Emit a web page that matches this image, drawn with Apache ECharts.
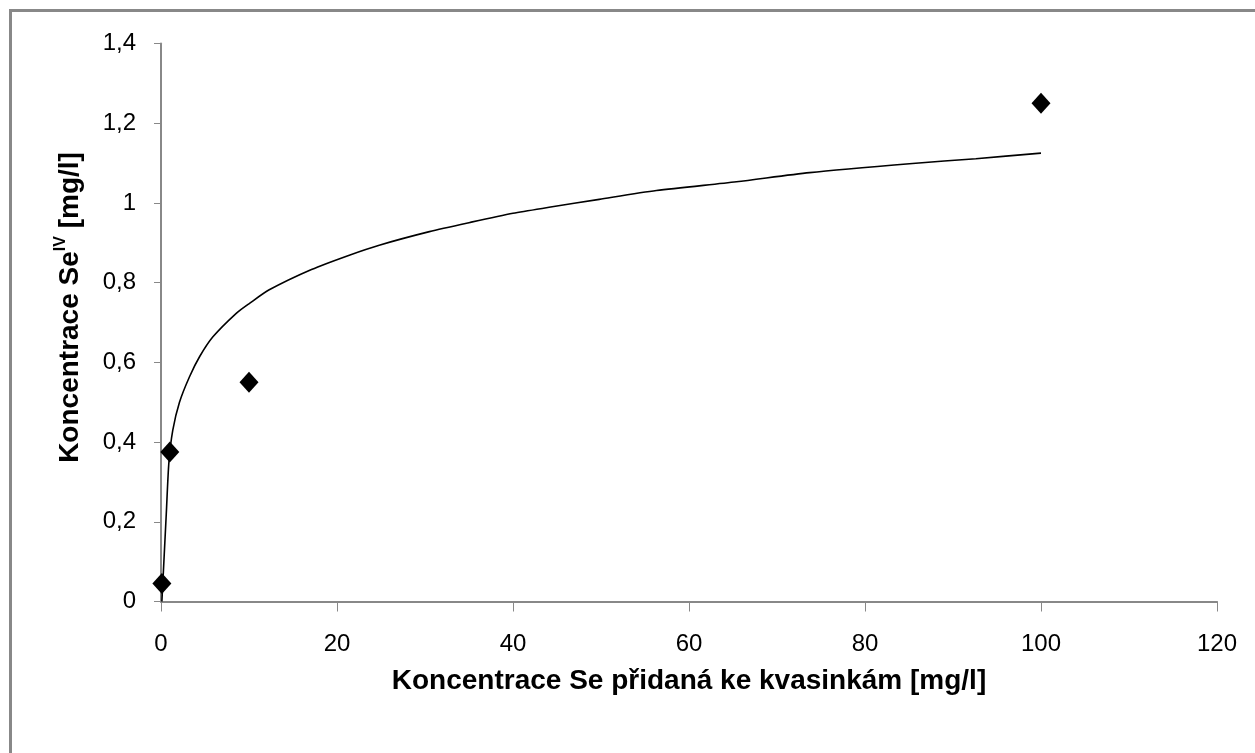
<!DOCTYPE html>
<html>
<head>
<meta charset="utf-8">
<script src="https://cdn.jsdelivr.net/npm/echarts@6/dist/echarts.min.js"></script>
<style>
  html, body { margin: 0; padding: 0; background: #fff; }
  #chart { width: 1255px; height: 753px; }
</style>
</head>
<body>
<div id="chart"></div>
<script>
// Se added to the yeast culture [mg/l] and the Se(IV) found [mg/l]
const addedSe = [0.1, 1, 10, 100];
const measuredSe = [0.045, 0.375, 0.55, 1.25];

// logarithmic trend line, sampled along its course
const trendX = [0.1, 0.6, 0.9, 1.34, 2.1, 3.24, 4.38, 5.9, 8.55, 10.06, 12.3, 17.1, 21.4, 24.8,
                30.5, 35.1, 40, 44.1, 49.8, 56.3, 65.4, 73.7, 85.4, 92.6, 100];
const trendY = [0.0, 0.22, 0.35, 0.43, 0.5, 0.564, 0.614, 0.664, 0.723, 0.748, 0.782, 0.833, 0.869, 0.894,
                0.928, 0.951, 0.974, 0.989, 1.009, 1.031, 1.053, 1.076, 1.099, 1.111, 1.125];

// axis ranges and tick steps
const xMin = 0, xMax = 120, xStep = 20;
const yMin = 0, yMax = 1.4, yStep = 0.2;

const xTitle = 'Koncentrace Se přidaná ke kvasinkám [mg/l]';
const yTitleParts = ['Koncentrace Se', 'IV', ' [mg/l]'];

const FONT = '"Liberation Sans", Arial, sans-serif';
const AXIS_GRAY = '#888888';

const chart = echarts.init(document.getElementById('chart'), null, { renderer: 'canvas' });

chart.setOption({
  animation: false,
  backgroundColor: '#ffffff',
  graphic: [{
    type: 'rect',
    shape: { x: 10.5, y: 10.5, width: 1400, height: 900 },
    style: { fill: null, stroke: AXIS_GRAY, lineWidth: 3 },
    silent: true
  }],
  grid: { left: 161, right: 38, top: 43.5, bottom: 151.5, containLabel: false, outerBoundsMode: 'none' },
  xAxis: {
    type: 'value',
    min: xMin, max: xMax, interval: xStep,
    splitLine: { show: false },
    axisLine: { show: true, onZero: false, lineStyle: { color: AXIS_GRAY, width: 2 } },
    axisTick: { show: true, inside: false, length: 10, lineStyle: { color: AXIS_GRAY, width: 1 } },
    axisLabel: { margin: 31, color: '#000', fontFamily: FONT, fontSize: 24 },
    name: xTitle,
    nameLocation: 'middle',
    nameGap: 66,
    nameTextStyle: { color: '#000', fontFamily: FONT, fontSize: 28, fontWeight: 'bold' }
  },
  yAxis: {
    type: 'value',
    min: yMin, max: yMax, interval: yStep,
    splitLine: { show: false },
    axisLine: { show: true, onZero: false, lineStyle: { color: AXIS_GRAY, width: 2 } },
    axisTick: { show: true, inside: false, length: 7, lineStyle: { color: AXIS_GRAY, width: 1 } },
    axisLabel: {
      margin: 25, color: '#000', fontFamily: FONT, fontSize: 24,
      formatter: v => String(+v.toFixed(1)).replace('.', ',')
    },
    name: '{main|' + yTitleParts[0] + '}{sup|' + yTitleParts[1] + '}{main|' + yTitleParts[2] + '}',
    nameLocation: 'middle',
    nameGap: 74,
    nameTextStyle: {
      color: '#000', fontFamily: FONT, fontSize: 28, fontWeight: 'bold',
      padding: [0, 0, 0, 30],
      rich: {
        main: { color: '#000', fontFamily: FONT, fontSize: 28, fontWeight: 'bold', lineHeight: 34 },
        sup: { color: '#000', fontFamily: FONT, fontSize: 16, fontWeight: 'bold', verticalAlign: 'top', lineHeight: 34, padding: [0, 0, 14, 0] }
      }
    }
  },
  series: [
    {
      name: 'trend',
      type: 'line',
      data: trendX.map((x, i) => [x, trendY[i]]),
      showSymbol: false,
      smooth: 0.25,
      lineStyle: { color: '#000', width: 1.6 },
      clip: true,
      z: 2
    },
    {
      name: 'Se IV',
      type: 'scatter',
      data: addedSe.map((x, i) => [x, measuredSe[i]]),
      symbol: 'diamond',
      symbolSize: [19, 21],
      itemStyle: { color: '#000', opacity: 1 },
      z: 3
    }
  ]
});
</script>
</body>
</html>
